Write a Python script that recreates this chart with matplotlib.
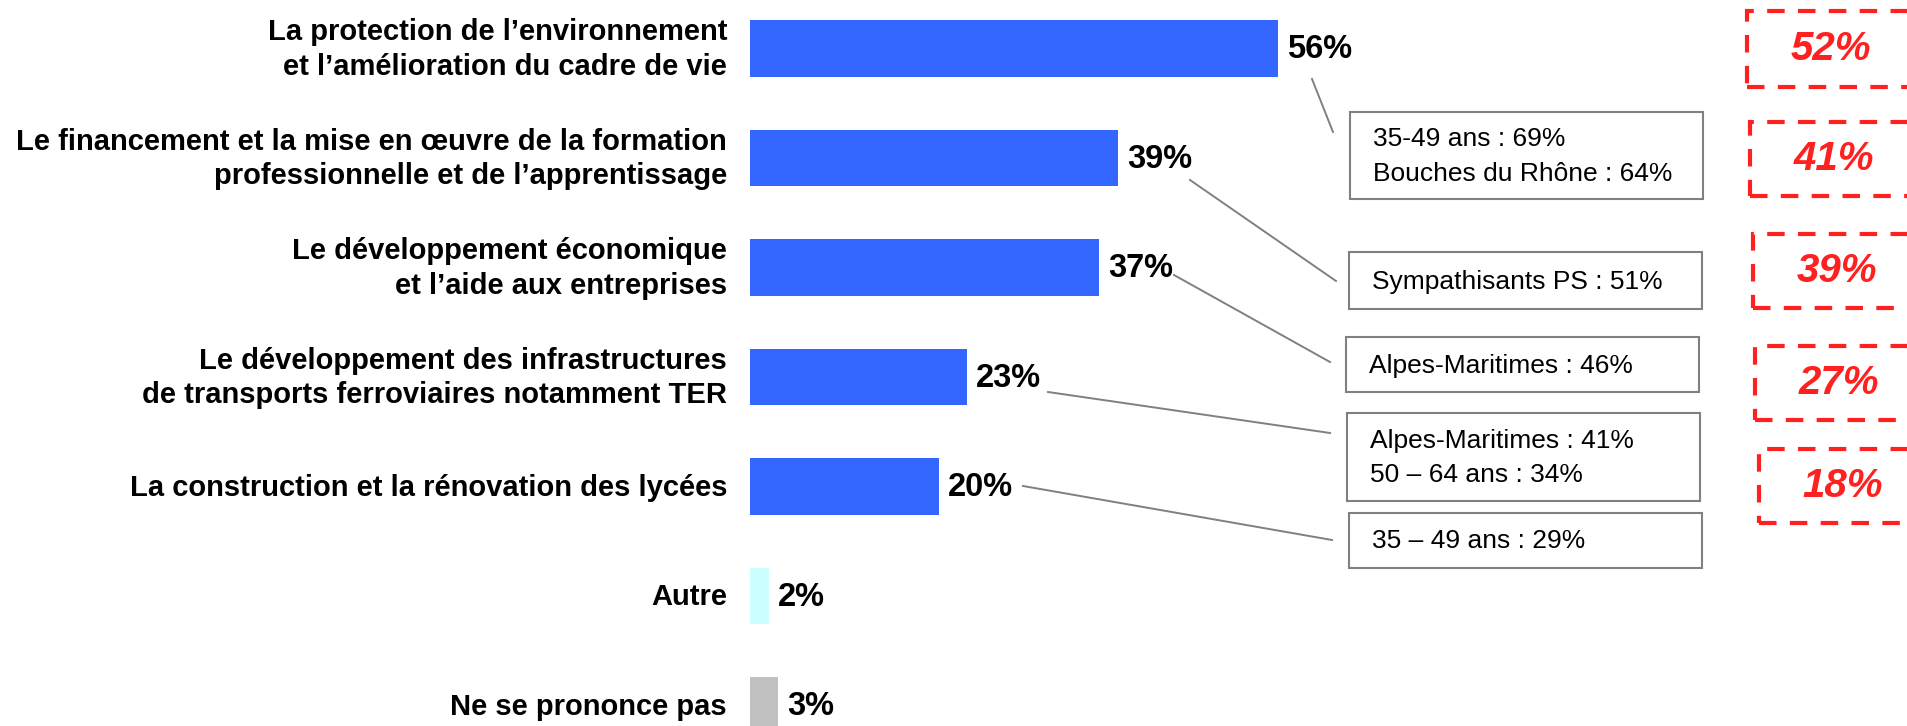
import numpy as np
import matplotlib
matplotlib.use('Agg')
import matplotlib.pyplot as plt
from matplotlib.patches import Rectangle

plt.rcParams['font.family'] = ['Liberation Sans', 'DejaVu Sans']

# donnees
categories = [
    'La protection de l’environnement\net l’amélioration du cadre de vie',
    'Le financement et la mise en œuvre de la formation\nprofessionnelle et de l’apprentissage',
    'Le développement économique\net l’aide aux entreprises',
    'Le développement des infrastructures\nde transports ferroviaires notamment TER',
    'La construction et la rénovation des lycées',
    'Autre',
    'Ne se prononce pas',
]
valeurs = [56, 39, 37, 23, 20, 2, 3]
couleurs = ['#3366FF'] * 5 + ['#CCFFFF', '#C0C0C0']

# rappel (chiffres en rouge) pour les 5 premiers items
rappel = [52, 41, 39, 27, 18]

# sous-populations
details = [
    '35-49 ans : 69%\nBouches du Rhône : 64%',
    'Sympathisants PS : 51%',
    'Alpes-Maritimes : 46%',
    'Alpes-Maritimes : 41%\n50 – 64 ans : 34%',
    '35 – 49 ans : 29%',
]

W, H = 1907, 726
fig = plt.figure(figsize=(W / 100, H / 100), dpi=100)
fig.patch.set_facecolor('white')


def px(x, y):
    # pixels (origine en haut a gauche) -> fraction de la figure
    return x / W, 1 - y / H


# axe des barres
x0 = 750
ppu = 9.43  # pixels par point de %
row = 109.5
y_first = 48.5
ax = fig.add_axes([x0 / W, 0, (W - x0) / W, 1])
ax.set_xlim(0, (W - x0) / ppu)
ax.set_ylim((H - y_first) / row, -y_first / row)
ax.axis('off')

pos = np.arange(len(categories))
ax.barh(pos, valeurs, height=0.52, color=couleurs, clip_on=True)

for i, (cat, v) in enumerate(zip(categories, valeurs)):
    ax.text(-23 / ppu, i + 0.01, cat, ha='right', va='center', fontsize=21,
            fontweight='bold', multialignment='right', linespacing=1.3,
            clip_on=False)
    ax.text(v + 9 / ppu, i + 0.01, f'{v}%', ha='left', va='center',
            fontsize=23.5, fontweight='bold', color='black')

# encadres gris
boites = [
    (1350, 112, 1703, 199),
    (1349, 252, 1702, 309),
    (1346, 337, 1699, 392),
    (1347, 413, 1700, 501),
    (1349, 513, 1702, 568),
]
traits = [
    ((1312, 79), (1333, 132)),
    ((1190, 180), (1336, 281)),
    ((1174, 275), (1330, 362)),
    ((1048, 392), (1330, 433)),
    ((1023, 486), (1332, 540)),
]
for (bx0, by0, bx1, by1), txt, (p0, p1) in zip(boites, details, traits):
    fx, fy = px(bx0, by1)
    fig.patches.append(Rectangle((fx, fy), (bx1 - bx0) / W, (by1 - by0) / H,
                                 transform=fig.transFigure, fill=False,
                                 edgecolor='#808080', linewidth=1.5))
    tx, ty = px(bx0 + 23, (by0 + by1) / 2 + 1)
    fig.text(tx, ty, txt, ha='left', va='center', fontsize=19,
             linespacing=1.55, color='black')
    a, b = px(*p0)
    c, d = px(*p1)
    fig.add_artist(plt.Line2D([a, c], [b, d], transform=fig.transFigure,
                              color='#808080', linewidth=1.4))

# encadres rouges pointilles
rouges_y = [(11, 87), (122, 196), (234, 308), (346, 420), (449, 523)]
rouges_x = [1747, 1750, 1753, 1755, 1759]
for r, (ry0, ry1), rx in zip(rappel, rouges_y, rouges_x):
    fx, fy = px(rx, ry1)
    fig.patches.append(Rectangle((fx, fy), 175 / W, (ry1 - ry0) / H,
                                 transform=fig.transFigure, fill=False,
                                 edgecolor='#FF2020', linewidth=3,
                                 linestyle=(0, (4.2, 3.2))))
    tx, ty = px(rx + 84, (ry0 + ry1) / 2)
    fig.text(tx, ty, f'{r}%', ha='center', va='center', fontsize=29,
             fontweight='bold', fontstyle='italic', color='#FF2020')

fig.savefig('out.png', dpi=100)
